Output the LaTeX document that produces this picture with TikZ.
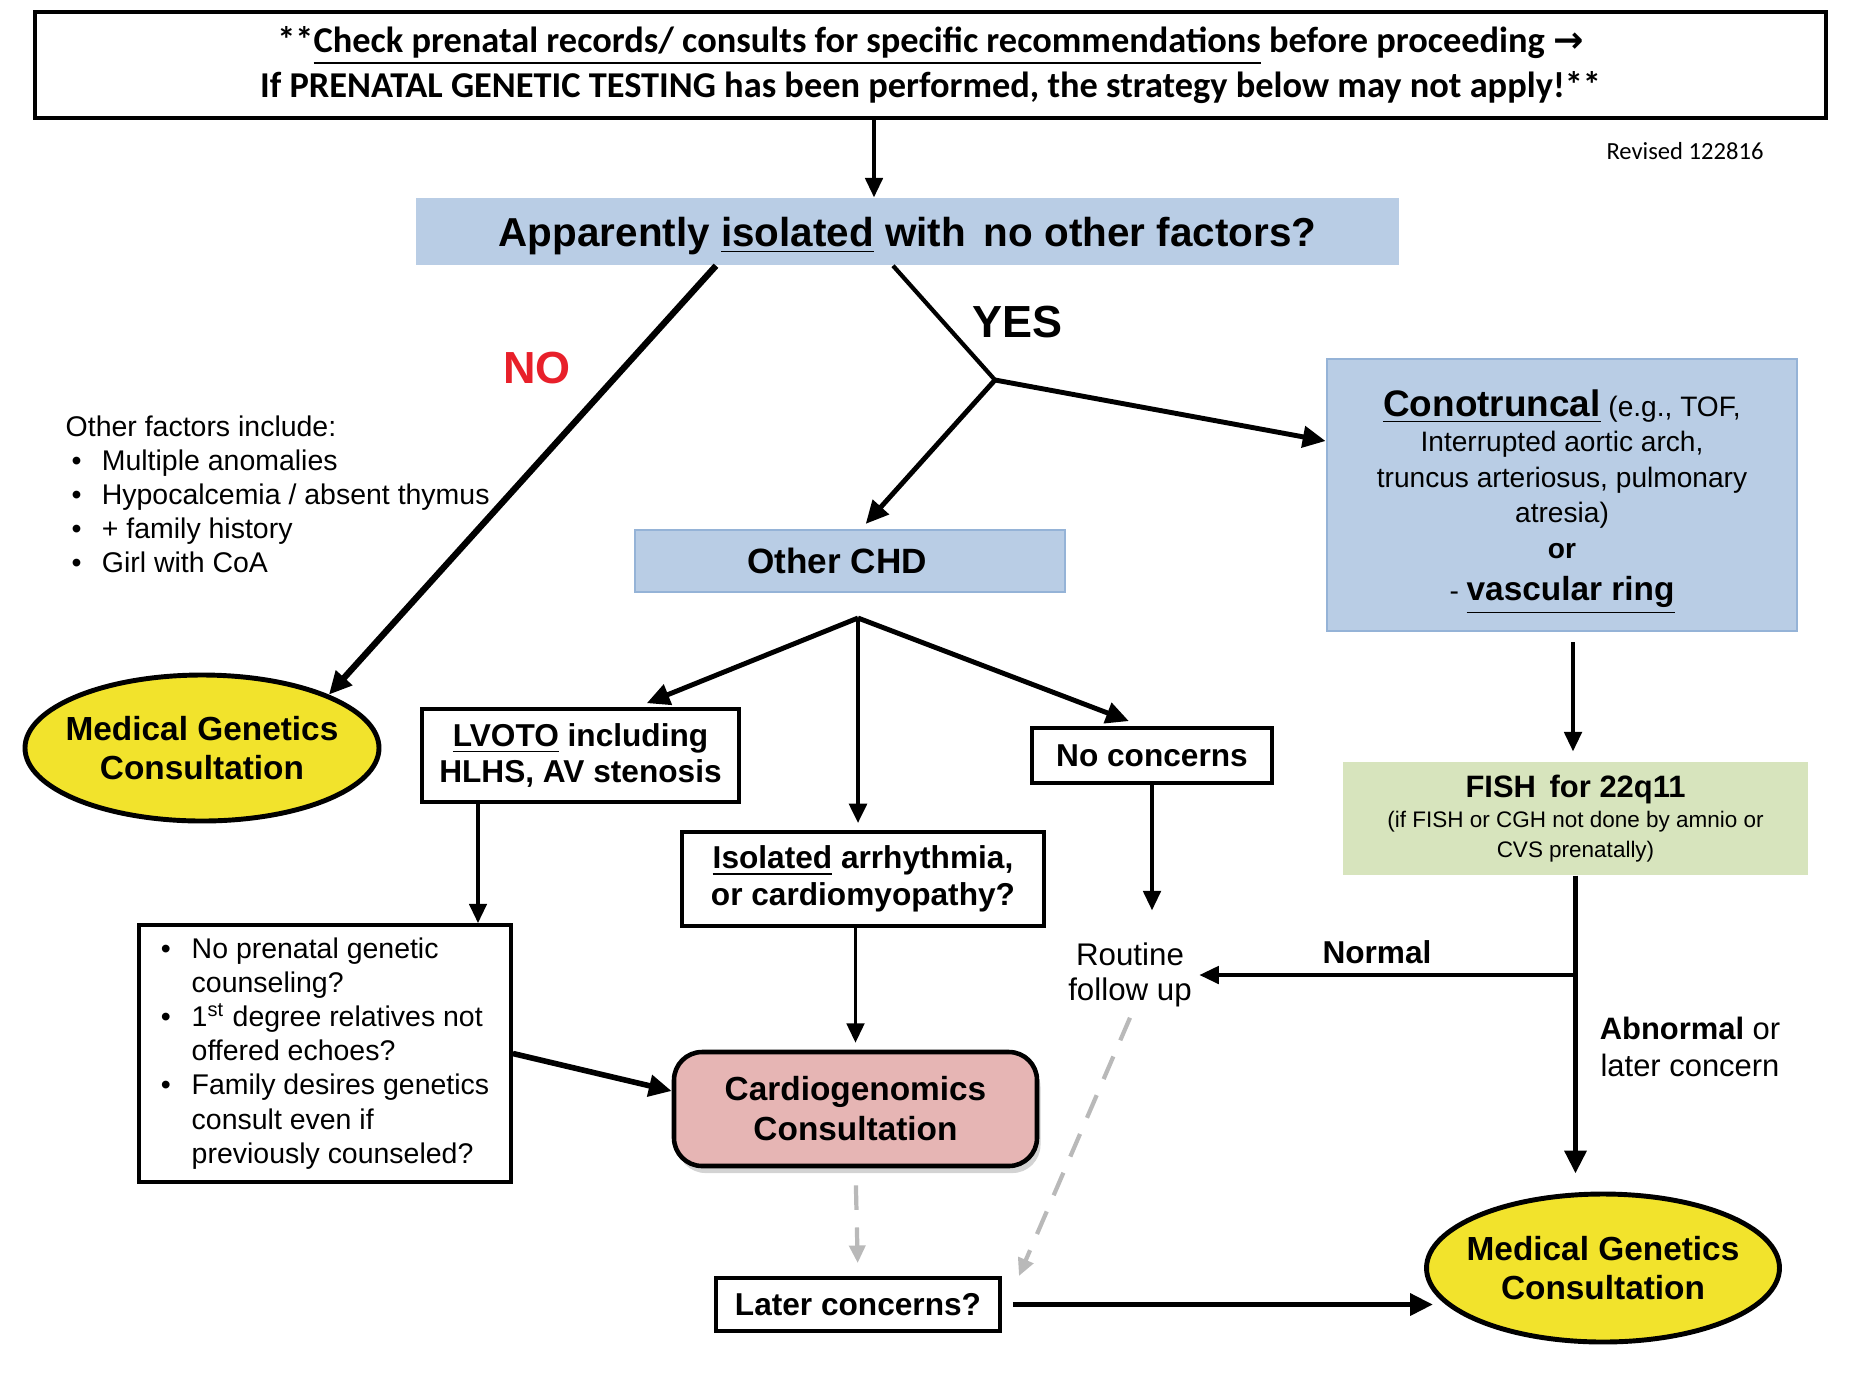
\documentclass[tikz,border=0pt]{standalone}
\usepackage{fontspec}
\setmainfont{Liberation Sans}
\newfontfamily\calibri{Carlito}
\newfontfamily\dejavu{DejaVu Sans}
\usetikzlibrary{shapes.geometric,arrows.meta,shadows}
\definecolor{chdblue}{HTML}{B9CDE5}
\definecolor{chdedge}{HTML}{95B3D7}
\definecolor{fishgreen}{HTML}{D7E4BD}
\definecolor{cardpink}{HTML}{E6B5B4}
\definecolor{mgyellow}{HTML}{F2E32C}
\definecolor{nored}{HTML}{E8202A}
\tikzset{
  >={Triangle[length=5.5pt,width=5pt]},
  wbox/.style={draw, line width=1.1pt, align=center, inner sep=0pt, font=\bfseries\fontsize{9}{10.5}\selectfont},
  bluebox/.style={fill=chdblue, inner sep=0pt, align=center},
  mgen/.style={ellipse, draw, line width=1.4pt, fill=mgyellow, inner ysep=0pt, inner xsep=-3.3pt, align=center, font=\bfseries\fontsize{9.5}{11}\selectfont},
  flow/.style={->, line width=0.9pt},
  bigflow/.style={-{Triangle[length=6.5pt,width=6pt]}, line width=1.6pt},
  maybe/.style={-{Triangle[length=5pt,width=4.5pt]}, gray!55, line width=1.2pt, dash pattern=on 7pt off 5pt}
}
\begin{document}
\begin{tikzpicture}
\useasboundingbox (0,0) rectangle (18.5,-13.79);
% header and question
\node[draw, line width=1.3pt, minimum width=17.91cm, minimum height=1.06cm, align=center, font=\calibri\bfseries\fontsize{10.35}{12.8}\selectfont] (check) at (9.305,-0.65) {**\underline{Check prenatal records/ consults for specific recommendations} before proceeding {\dejavu\bfseries →}\\ If PRENATAL GENETIC TESTING has been performed, the strategy below may not apply!**};
\node[font=\calibri\fontsize{7}{8}\selectfont] (revised) at (16.85,-1.51) {Revised 122816};
\node[bluebox, minimum width=9.83cm, minimum height=0.67cm, text depth=0pt, font=\bfseries\fontsize{11.5}{13}\selectfont] (isolq) at (9.075,-2.315) {Apparently \underline{isolated} with\, no other factors?};
\node[text=nored, font=\bfseries\fontsize{12.8}{14}\selectfont] (nolab) at (5.37,-3.68) {NO};
\node[font=\bfseries\fontsize{12.8}{14}\selectfont] (yeslab) at (10.17,-3.22) {YES};
\node[anchor=north west, align=left, inner sep=0pt, font=\fontsize{8.1}{9.7}\selectfont] (factors) at (0.65,-4.15) {Other factors include:\\
\hspace*{1.7pt}\makebox[8.6pt][l]{\textbullet}Multiple\ anomalies\\
\hspace*{1.7pt}\makebox[8.6pt][l]{\textbullet}Hypocalcemia / absent thymus\\
\hspace*{1.7pt}\makebox[8.6pt][l]{\textbullet}+ family\ history\\
\hspace*{1.7pt}\makebox[8.6pt][l]{\textbullet}Girl with CoA};
% YES branch
\node[bluebox, draw=chdedge, line width=0.8pt, minimum width=4.7cm, minimum height=2.72cm, text depth=-2pt, font=\fontsize{8}{10.1}\selectfont] (conot) at (15.62,-4.95) {{\bfseries\fontsize{10.5}{10}\selectfont\underline{Conotruncal}} (e.g., TOF,\\ Interrupted aortic arch,\\ truncus arteriosus, pulmonary\\ atresia)\\ {\bfseries or}\\[2pt] - {\bfseries\fontsize{9.5}{10}\selectfont\underline{vascular ring}}};
\node[bluebox, draw=chdedge, line width=0.5pt, minimum width=4.3cm, minimum height=0.62cm, font=\bfseries\fontsize{10}{12}\selectfont] (otherchd) at (8.5,-5.61) {Other CHD\hspace*{0.26cm}};
\node[mgen, minimum width=3.54cm, minimum height=1.46cm] (mgl) at (2.02,-7.48) {Medical Genetics\\ Consultation};
\node[wbox, minimum width=3.17cm, minimum height=0.93cm] (lvoto) at (5.805,-7.555) {\underline{LVOTO} including\\ HLHS, AV stenosis};
\node[wbox, minimum width=3.62cm, minimum height=0.94cm] (isol) at (8.63,-8.79) {\underline{Isolated} arrhythmia,\\ or cardiomyopathy?};
\node[wbox, minimum width=2.4cm, minimum height=0.55cm] (noconc) at (11.52,-7.555) {No concerns};
\node[fill=fishgreen, minimum width=4.65cm, minimum height=1.13cm, align=center, inner sep=0pt, font=\fontsize{6.4}{8.6}\selectfont] (fish) at (15.755,-8.185) {{\bfseries\fontsize{8.8}{10}\selectfont FISH\, for 22q11}\\ (if FISH or CGH not done by amnio or\\ CVS prenatally)};
% lower part
\node[draw, line width=1.1pt, minimum width=3.72cm, minimum height=2.57cm, align=left, font=\fontsize{8.1}{9.7}\selectfont] (bullets) at (3.25,-10.535) {\makebox[8.8pt][l]{\textbullet}No prenatal genetic\\
\hspace*{8.8pt}counseling?\\
\makebox[8.8pt][l]{\textbullet}1\textsuperscript{st} degree relatives not\\
\hspace*{8.8pt}offered echoes?\\
\makebox[8.8pt][l]{\textbullet}Family desires genetics\\
\hspace*{8.8pt}consult even if\\
\hspace*{8.8pt}previously counseled?};
\node[draw, line width=1.3pt, rounded corners=8pt, fill=cardpink, drop shadow={opacity=0.35, shadow xshift=1pt, shadow yshift=-2pt}, minimum width=3.63cm, minimum height=1.14cm, align=center, font=\bfseries\fontsize{9.5}{11.4}\selectfont] (cardio) at (8.555,-11.09) {Cardiogenomics\\ Consultation};
\node[align=center, font=\fontsize{8.9}{10}\selectfont, minimum height=1.28cm, inner xsep=2pt] (routine) at (11.3,-9.75) {Routine\\ follow up};
\node[wbox, minimum width=2.84cm, minimum height=0.53cm] (later) at (8.58,-13.045) {Later concerns?};
\node[mgen, minimum width=3.5cm, minimum height=1.48cm] (mgr) at (16.03,-12.68) {Medical Genetics\\ Consultation};
\node[font=\bfseries\fontsize{9}{10}\selectfont] (normal) at (13.77,-9.52) {Normal};
\node[align=center, font=\fontsize{8.8}{10.3}\selectfont] (abn) at (16.9,-10.47) {{\bfseries Abnormal} or\\ later concern};
% connectors
\coordinate (topin) at ([xshift=-0.335cm]isolq.north);
\coordinate (nostart) at ([xshift=-1.915cm]isolq.south);
\coordinate (yesstart) at ([xshift=-0.145cm]isolq.south);
\coordinate (yesfork) at (9.95,-3.80);
\coordinate (chdfork) at (8.58,-6.18);
\coordinate (lvdown) at ([xshift=-1.025cm]lvoto.south);
\coordinate (condown) at ([xshift=0.11cm]conot.south);
\coordinate (mgin) at ([xshift=0.09cm]mgr.west);
\draw[flow] (topin |- check.south) -- (topin);
\draw[bigflow, line width=1.8pt] (nostart) -- (mgl.north east);
\draw[line width=1.2pt] (yesstart) -- (yesfork);
\draw[bigflow, line width=1.4pt] (yesfork) -- ([yshift=0.54cm]conot.west);
\draw[bigflow, line width=1.4pt, shorten >=2pt] (yesfork) -- ([xshift=0.11cm]otherchd.north);
\draw[bigflow, line width=1.4pt, shorten >=3pt] (chdfork) -- ([xshift=0.565cm]lvoto.north);
\draw[flow, line width=1.1pt, shorten >=2pt] (chdfork) -- (chdfork |- isol.north);
\draw[bigflow, line width=1.4pt, shorten >=4pt] (chdfork) -- ([xshift=-0.1cm]noconc.north);
\draw[flow] (lvdown) -- (lvdown |- bullets.north);
\draw[flow, shorten >=2pt] (cardio.north |- isol.south) -- (cardio.north);
\draw[bigflow] (bullets.east) -- ([yshift=0.18cm]cardio.west);
\draw[flow] (noconc.south) -- (noconc.south |- routine.north);
\draw[flow, shorten <=0.1cm, shorten >=0.1cm] (condown) -- (condown |- fish.north);
\draw[bigflow, shorten >=0.18cm] (fish.south) -- (fish.south |- mgr.north);
\draw[flow] (fish.south |- routine.east) -- (routine.east);
\draw[maybe, shorten <=0.17cm, shorten >=0.13cm] (cardio.south) -- (later.north);
\draw[maybe] ([yshift=0.22cm]routine.south) -- ([xshift=0.17cm]later.north east);
\draw[bigflow, shorten <=0.11cm] (later.east) -- (later.east -| mgin);
\end{tikzpicture}
\end{document}
